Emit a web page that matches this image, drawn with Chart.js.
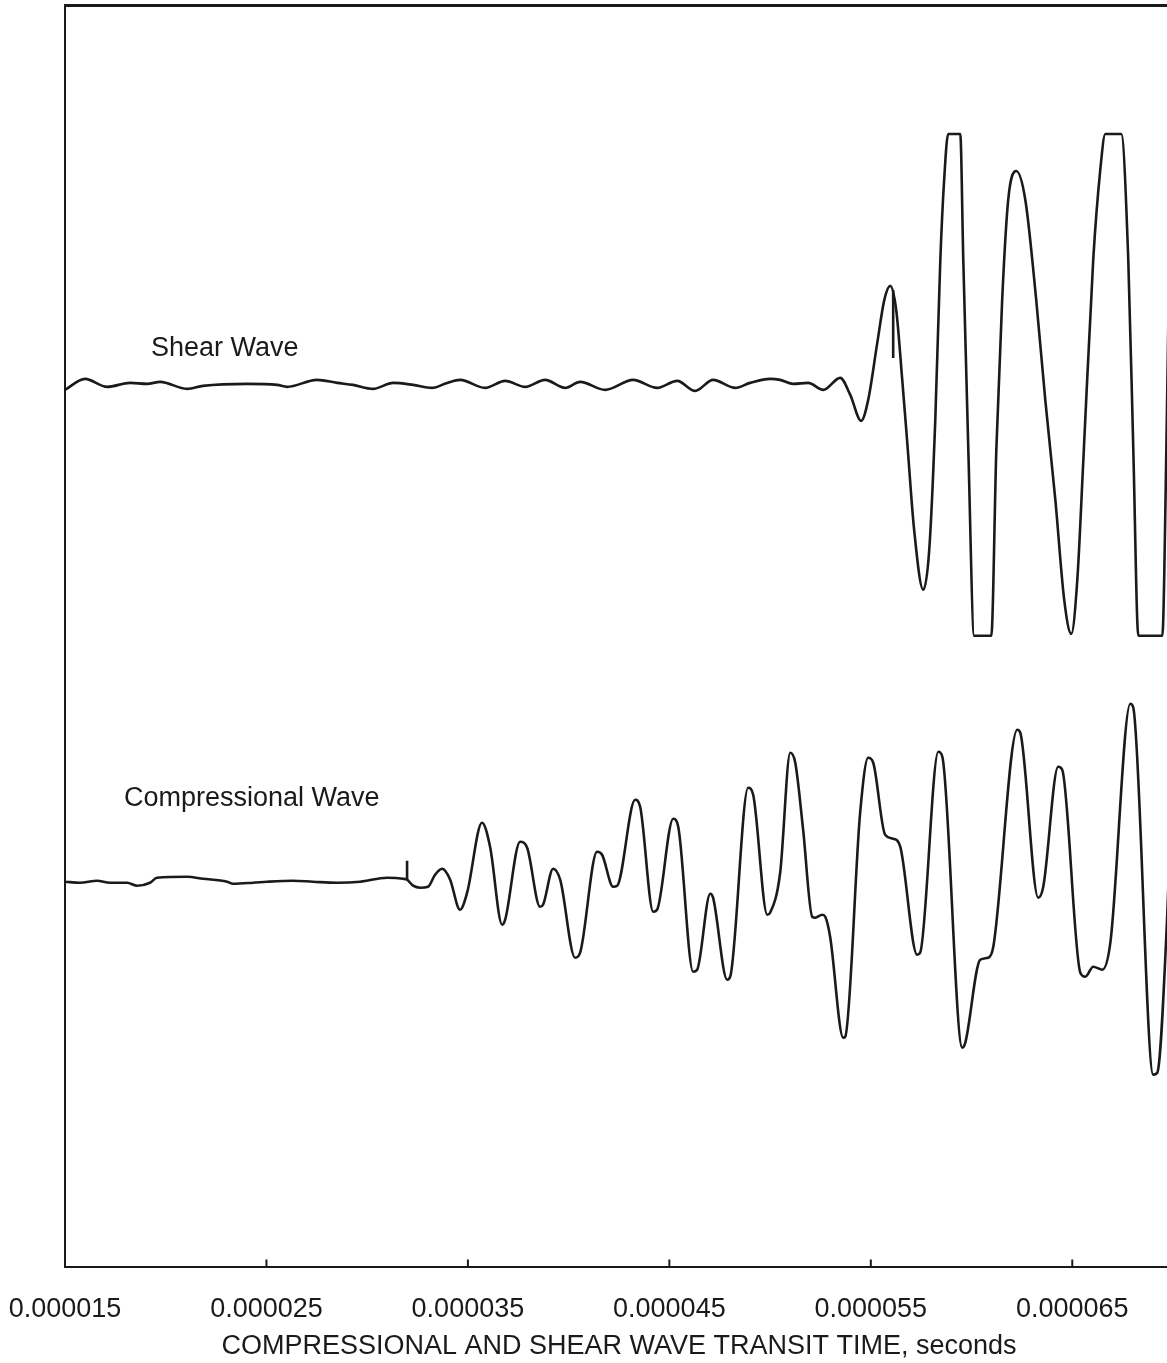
<!DOCTYPE html>
<html>
<head>
<meta charset="utf-8">
<title>Compressional and shear wave transit time</title>
<script src="https://cdn.jsdelivr.net/npm/chart.js@4.4.1/dist/chart.umd.min.js"></script>
<style>
    html, body { margin: 0; padding: 0; background: #fff; overflow: hidden; }
    #canvasChart { width: 1167px; height: 1363px; overflow: hidden; }
    #myChart { display: block; }
</style>
</head>
<body>
<div id="canvasChart"><canvas id="myChart" width="1180" height="1363"></canvas></div>
<script>
// temps en microsecondes, amplitudes en unités arbitraires
const shearTime = [15.00, 15.99, 17.09, 18.23, 19.07, 19.72, 21.06, 21.85, 24.04, 25.53, 26.02, 27.51, 28.51, 29.30, 30.29, 31.29, 32.28, 33.22, 33.97, 34.61,
    35.85, 36.85, 37.84, 38.83, 39.83, 40.57, 41.81, 43.20, 44.39, 45.39, 46.28, 47.17, 48.27, 49.01, 50.00, 50.50, 51.15, 51.89, 52.64, 53.48,
    53.98, 54.52, 54.87, 55.32, 55.67, 55.96, 56.26, 56.56, 56.81, 57.15, 57.60, 57.90, 58.20, 58.45, 58.64, 58.84, 59.44, 59.59, 59.84, 60.13,
    60.98, 61.23, 61.52, 61.82, 62.22, 62.67, 63.21, 63.66, 64.16, 64.60, 64.95, 65.25, 65.55, 66.04, 66.39, 66.64, 67.43, 67.78, 68.03, 68.28,
    69.47, 69.67, 69.91];
const shearAmp = [-0.2, 0.9, 0.1, 0.5, 0.4, 0.6, -0.1, 0.2, 0.4, 0.3, 0.1, 0.8, 0.5, 0.3, -0.1, 0.5, 0.3, 0.0, 0.5, 0.8,
    0.0, 0.7, 0.1, 0.8, 0.0, 0.6, -0.2, 0.8, 0.0, 0.7, -0.3, 0.8, 0.0, 0.5, 0.9, 0.8, 0.4, 0.5, -0.2, 1.0,
    -0.7, -3.3, -1.2, 4.5, 8.8, 10.2, 7.8, 0.8, -5.5, -14.2, -20.2, -16.2, -3.2, 12.8, 20.8, 25.4, 25.4, 12.8, -6.2, -24.8,
    -24.8, -6.2, 8.8, 18.8, 21.7, 18.8, 8.8, -1.2, -11.2, -21.2, -24.6, -19.2, -7.2, 12.8, 21.8, 25.4, 25.4, 12.8, -6.2, -24.8,
    -24.8, -6.2, 25.4];
const shearOffset = 24.8;

const compTime = [15.00, 15.74, 16.59, 17.23, 18.08, 18.58, 19.22, 19.57, 21.06, 21.85, 23.04, 23.34, 24.33, 25.03, 26.32, 27.31, 28.51, 29.65, 30.99, 31.78,
    31.98, 32.28, 32.63, 33.02, 33.37, 33.72, 33.87, 34.12, 34.61, 34.96, 35.70, 36.10, 36.70, 36.85, 37.59, 37.94, 38.58, 38.73, 39.23, 39.58,
    40.32, 40.57, 41.41, 41.66, 42.21, 42.41, 43.30, 43.55, 44.20, 44.39, 45.19, 45.44, 46.18, 46.38, 47.03, 47.17, 47.87, 48.02, 48.91, 49.16,
    49.86, 50.00, 50.50, 51.00, 51.25, 51.64, 52.09, 52.24, 52.59, 52.74, 52.98, 53.63, 53.73, 54.47, 54.87, 55.12, 55.71, 56.11, 56.46, 57.30,
    57.45, 58.35, 58.55, 59.54, 59.69, 60.43, 60.83, 61.08, 62.27, 62.42, 63.31, 63.56, 64.30, 64.50, 65.40, 65.65, 66.04, 66.49, 66.89, 67.88,
    68.03, 69.02, 69.22, 69.72, 69.96];
const compAmp = [-0.1, -0.2, 0.0, -0.2, -0.2, -0.5, -0.2, 0.3, 0.4, 0.2, -0.1, -0.3, -0.2, -0.1, 0.0, -0.1, -0.2, -0.1, 0.3, 0.2,
    0.1, -0.5, -0.7, -0.6, 0.6, 1.2, 1.0, 0.1, -2.9, -1.2, 5.8, 3.4, -4.4, -3.9, 3.9, 3.3, -2.6, -2.4, 1.2, 0.1,
    -7.7, -7.2, 2.9, 2.6, -0.6, -0.5, 8.1, 7.4, -3.1, -2.9, 6.2, 5.4, -9.1, -8.9, -1.3, -1.7, -9.9, -9.6, 9.3, 8.6,
    -3.4, -3.2, 0.8, 12.8, 11.8, 5.1, -3.6, -3.7, -3.4, -3.6, -5.6, -15.7, -15.6, 6.8, 12.3, 11.8, 4.6, 4.2, 3.4, -7.4,
    -7.2, 12.9, 12.4, -16.7, -16.2, -7.9, -7.7, -6.6, 15.1, 14.8, -1.7, -0.6, 11.4, 11.1, -9.2, -9.6, -8.6, -8.9, -6.2, 17.7,
    17.3, -19.4, -19.2, -3.2, 10.1];
const compOffset = -24.5;

// petits pics parasites sur les deux traces
const shearSpikeTime = [56.11, 56.11];
const shearSpikeAmp = [9.8, 3.0];
const compSpikeTime = [31.98, 31.98];
const compSpikeAmp = [0.1, 2.0];

const xTicks = [15, 25, 35, 45, 55, 65];
const waveLabels = ['Shear Wave', 'Compressional Wave'];
const waveLabelTime = [19.27, 17.93];
const waveLabelY = [28.7, -16.3];

const fontFamily = '"Liberation Sans", Arial, sans-serif';
const fontSize = 27;
const ink = '#1a1a1a';

function toPoints(times, amps, offset) {
    return times.map(function (t, i) {
        return { x: t, y: amps[i] + offset };
    });
}

const framePlugin = {
    id: 'frame',
    afterDatasetsDraw: function (chart) {
        const ctx = chart.ctx;
        const a = chart.chartArea;
        const xScale = chart.scales.x;
        const yScale = chart.scales.y;
        ctx.save();
        ctx.strokeStyle = ink;
        ctx.lineWidth = 2;
        ctx.beginPath();
        ctx.moveTo(a.left, a.bottom);
        ctx.lineTo(a.left, a.top);
        ctx.lineTo(a.right, a.top);
        ctx.lineTo(a.right, a.bottom);
        ctx.stroke();
        ctx.lineWidth = 3;
        ctx.beginPath();
        ctx.moveTo(a.left, a.top + 0.5);
        ctx.lineTo(a.right, a.top + 0.5);
        ctx.stroke();
        // graduations vers l'intérieur
        ctx.lineWidth = 2;
        ctx.beginPath();
        xTicks.forEach(function (v) {
            const px = xScale.getPixelForValue(v);
            ctx.moveTo(px, a.bottom);
            ctx.lineTo(px, a.bottom - 7);
        });
        ctx.stroke();
        // noms des traces
        ctx.fillStyle = ink;
        ctx.font = fontSize + 'px ' + fontFamily;
        ctx.textAlign = 'left';
        ctx.textBaseline = 'middle';
        waveLabels.forEach(function (txt, i) {
            ctx.fillText(txt, xScale.getPixelForValue(waveLabelTime[i]), yScale.getPixelForValue(waveLabelY[i]));
        });
        ctx.restore();
    }
};

window.addEventListener('DOMContentLoaded', function () {
    const lineStyle = {
        borderColor: ink,
        borderWidth: 2.6,
        pointRadius: 0,
        fill: false,
        cubicInterpolationMode: 'monotone'
    };
    const spikeStyle = {
        borderColor: ink,
        borderWidth: 2.6,
        pointRadius: 0,
        fill: false,
        tension: 0
    };

    new Chart(document.getElementById('myChart'), {
        type: 'line',
        data: {
            datasets: [
                Object.assign({ label: 'Shear Wave', data: toPoints(shearTime, shearAmp, shearOffset) }, lineStyle),
                Object.assign({ label: 'Compressional Wave', data: toPoints(compTime, compAmp, compOffset) }, lineStyle),
                Object.assign({ label: 'shear spike', data: toPoints(shearSpikeTime, shearSpikeAmp, shearOffset) }, spikeStyle),
                Object.assign({ label: 'comp spike', data: toPoints(compSpikeTime, compSpikeAmp, compOffset) }, spikeStyle)
            ]
        },
        options: {
            responsive: false,
            animation: false,
            layout: { padding: { left: 65, top: 5, right: 7, bottom: 0 } },
            plugins: {
                legend: { display: false },
                tooltip: { enabled: false }
            },
            scales: {
                x: {
                    type: 'linear',
                    min: 15,
                    max: 70,
                    afterBuildTicks: function (scale) {
                        scale.ticks = xTicks.map(function (v) { return { value: v }; });
                    },
                    afterFit: function (scale) {
                        scale.paddingLeft = 0;
                        scale.paddingRight = 0;
                    },
                    ticks: {
                        autoSkip: false,
                        maxRotation: 0,
                        padding: 26.5,
                        color: ink,
                        font: { family: fontFamily, size: fontSize },
                        callback: function (v) { return (v * 1e-6).toFixed(6); }
                    },
                    grid: { drawOnChartArea: false, drawTicks: false },
                    border: { display: true, color: ink, width: 2 },
                    title: {
                        display: true,
                        text: 'COMPRESSIONAL AND SHEAR WAVE TRANSIT TIME, seconds',
                        color: ink,
                        font: { family: fontFamily, size: fontSize },
                        padding: { top: -21.4, bottom: 0 }
                    }
                },
                y: {
                    display: false,
                    min: -63.1,
                    max: 63.1
                }
            }
        },
        plugins: [framePlugin]
    });
});
</script>
</body>
</html>
